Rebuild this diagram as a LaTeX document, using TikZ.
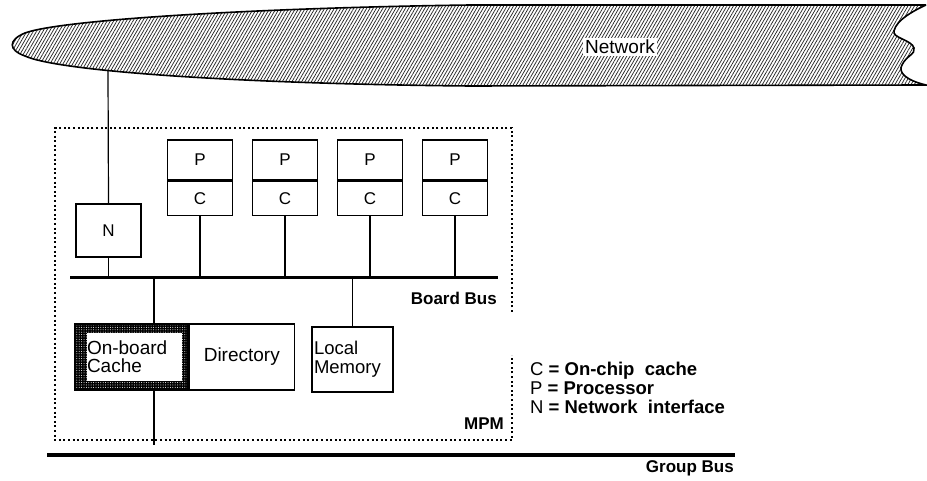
\documentclass[tikz,border=0pt]{standalone}
\usepackage{fontspec}
\setmainfont{Liberation Sans}
\usetikzlibrary{positioning,patterns.meta}

\tikzset{
  unit/.style={draw, line width=1.3pt, inner sep=0pt, font=\fontsize{17}{17}\selectfont},
  wire/.style={line width=1.2pt},
  bus/.style={line width=3pt},
  board/.style={line width=2pt, dash pattern=on 2pt off 2.6pt},
  lbl/.style={font=\fontsize{17}{19}\selectfont\bfseries, inner sep=0pt},
}

\begin{document}
\begin{tikzpicture}[x=1pt,y=-1pt]
\useasboundingbox (0,0) rectangle (927,481);

% the network cloud
\draw[line width=1.6pt, pattern={Lines[angle=60,distance=2.8pt,line width=0.75pt]}, pattern color=black!85]
  (926,5) -- (470,5) .. controls (250,8) and (60,20) .. (25,33)
  .. controls (8,40) and (8,50) .. (25,56)
  .. controls (60,72) and (250,84) .. (470,86) -- (926,85)
  .. controls (905,80) and (898,72) .. (902,65)
  .. controls (906,56) and (916,54) .. (914,48)
  .. controls (912,40) and (892,38) .. (894,31)
  .. controls (896,20) and (915,10) .. (926,5);
\node[fill=white, inner sep=2pt, font=\fontsize{19}{19}\selectfont] (net) at (620,47) {Network};
\coordinate (netdrop) at (108,71);

% MPM board outline
\draw[board] (512,312) -- (512,128) -- (55,128) -- (55,440) -- (512,440) -- (512,355);
\node[lbl, anchor=east] (mpm) at (504,424) {MPM};

% board bus
\coordinate (bbl) at (70,278);
\coordinate (bbr) at (498,278);
\draw[bus] (bbl) -- (bbr);
\node[lbl, anchor=east] (bblabel) at (497,298) {Board Bus};

% processors with on-chip caches
\foreach \i/\x in {1/200,2/285,3/370,4/455} {
  \node[unit, minimum width=65pt, minimum height=40pt] (p\i) at (\x,160) {P};
  \node[unit, minimum width=65pt, minimum height=34pt, below=0pt of p\i] (c\i) {C};
  \draw[wire] (c\i.south) -- (c\i.south |- bbl);
}

% network interface
\node[unit, minimum width=65pt, minimum height=53pt] (n) at (108.5,230.5) {N};
\draw[wire] (netdrop) -- (n.north);
\draw[wire] (n.south) -- (n.south |- bbl);

% on-board cache and directory
\node[draw, line width=1.3pt, minimum width=113pt, minimum height=66pt, inner sep=0pt,
  preaction={fill=black}, pattern={Dots[distance=2.4pt,radius=0.5pt]}, pattern color=white] (cache) at (131.5,357) {};
\node[fill=white, inner sep=0pt, minimum width=95pt, minimum height=48pt, text width=94pt, align=left,
  font=\fontsize{19}{18}\selectfont] (cachetxt) at (134,357) {On-board\\Cache};
\node[unit, font=\fontsize{19}{18}\selectfont, minimum width=105pt, minimum height=66pt, right=0pt of cache] (dir) {Directory};

% local memory
\node[unit, font=\fontsize{18.5}{19}\selectfont, minimum width=81pt, minimum height=65pt,
  text width=77pt, align=left] (mem) at (352.5,359.5) {Local\\Memory};

% connections to the board bus
\coordinate (tapc) at (154,278);
\draw[wire] (tapc) -- (tapc |- cache.north);
\draw[wire] (mem.north |- bbl) -- (mem.north);
\coordinate (cacheend) at (154,445);
\draw[wire] (cacheend |- cache.south) -- (cacheend);

% group bus
\coordinate (gbl) at (47,455);
\coordinate (gbr) at (735,455);
\draw[line width=4pt] (gbl) -- (gbr);
\node[lbl, anchor=east] (gblabel) at (734,468) {Group Bus};

% legend
\node[anchor=north west, align=left, inner sep=0pt, font=\fontsize{18.5}{19}\selectfont] (legend) at (530,362)
  {C {\bfseries = On-chip\ \ cache}\\P {\bfseries = Processor}\\N {\bfseries = Network\ \ interface}};
\end{tikzpicture}
\end{document}
